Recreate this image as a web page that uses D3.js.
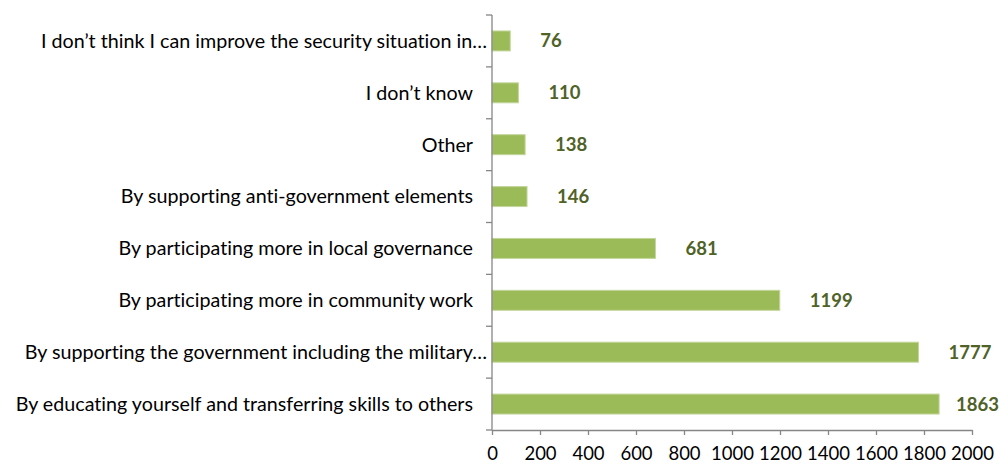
<!DOCTYPE html>
<html>
<head>
<meta charset="utf-8">
<script src="https://cdn.jsdelivr.net/npm/d3@7"></script>
<style>
  html, body { margin: 0; padding: 0; background: #fff; }
  svg { display: block; }
  text { font-family: Lato, "Open Sans", sans-serif; font-variant-ligatures: none; }
</style>
</head>
<body>
<svg id="chart" width="1005" height="465"></svg>
<script>
// Responses, listed top to bottom
const categories = [
  "I don\u2019t think I can improve the security situation in\u2026",
  "I don\u2019t know",
  "Other",
  "By supporting anti-government elements",
  "By participating more in local governance",
  "By participating more in community work",
  "By supporting the government including the military\u2026",
  "By educating yourself and transferring skills to others"
];
const counts = [76, 110, 138, 146, 681, 1199, 1777, 1863];
const xTicks = [0, 200, 400, 600, 800, 1000, 1200, 1400, 1600, 1800, 2000];

const svg = d3.select("#chart");
const W = 1005, H = 465;
const margin = { left: 492, right: 33, top: 15, bottom: 35 };

const x = d3.scaleLinear().domain([0, 2000]).range([margin.left, W - margin.right]);
const y = d3.scaleBand().domain(categories)
  .range([margin.top, H - margin.bottom]).paddingInner(0.615).paddingOuter(0.3075);

const axisColor = "#868686";
const labelSize = 19.7;

// bars
svg.append("g").selectAll("rect")
  .data(categories)
  .join("rect")
  .attr("x", x(0))
  .attr("y", d => y(d))
  .attr("width", (d, i) => x(counts[i]) - x(0))
  .attr("height", y.bandwidth())
  .attr("fill", "#9BBB59")
  .attr("stroke", "#C3D69B")
  .attr("stroke-width", 1);

// value labels, kept inside the right edge
svg.append("g").selectAll("text")
  .data(categories)
  .join("text")
  .attr("y", d => y(d) + y.bandwidth() / 2)
  .attr("dy", "0.35em")
  .attr("font-size", 18.5)
  .attr("font-weight", 700)
  .attr("fill", "#4F6228")
  .text((d, i) => counts[i])
  .each(function (d, i) {
    const w = this.getComputedTextLength();
    d3.select(this).attr("x", Math.min(x(counts[i]) + 30, W - 6 - w));
  });

// category axis (left)
const yTop = margin.top, yBot = H - margin.bottom;
const gy = svg.append("g");
gy.append("line")
  .attr("x1", x(0)).attr("x2", x(0))
  .attr("y1", yTop).attr("y2", yBot)
  .attr("stroke", axisColor).attr("stroke-width", 1.3);
const step = y.step();
gy.selectAll("line.tick")
  .data(d3.range(categories.length + 1))
  .join("line")
  .attr("class", "tick")
  .attr("x1", x(0) - 6).attr("x2", x(0))
  .attr("y1", i => yTop + i * step).attr("y2", i => yTop + i * step)
  .attr("stroke", axisColor).attr("stroke-width", 1.3);
gy.selectAll("text")
  .data(categories)
  .join("text")
  .attr("x", d => x(0) - (d.endsWith("\u2026") ? 5 : 19))
  .attr("y", d => y(d) + y.bandwidth() / 2)
  .attr("dy", "0.35em")
  .attr("text-anchor", "end")
  .attr("font-size", labelSize)
  .attr("fill", "#000")
  .text(d => d);

// value axis (bottom)
const gx = svg.append("g").attr("transform", `translate(0,${yBot})`)
  .call(d3.axisBottom(x).tickValues(xTicks).tickFormat(d3.format("d"))
    .tickSize(5).tickSizeOuter(0).tickPadding(12));
gx.select(".domain").attr("stroke", axisColor).attr("stroke-width", 1.3);
gx.selectAll(".tick line").attr("stroke", axisColor).attr("stroke-width", 1.3);
gx.selectAll(".tick text")
  .attr("font-size", 18.5)
  .attr("font-family", "Lato, 'Open Sans', sans-serif")
  .attr("fill", "#000");
</script>
</body>
</html>
